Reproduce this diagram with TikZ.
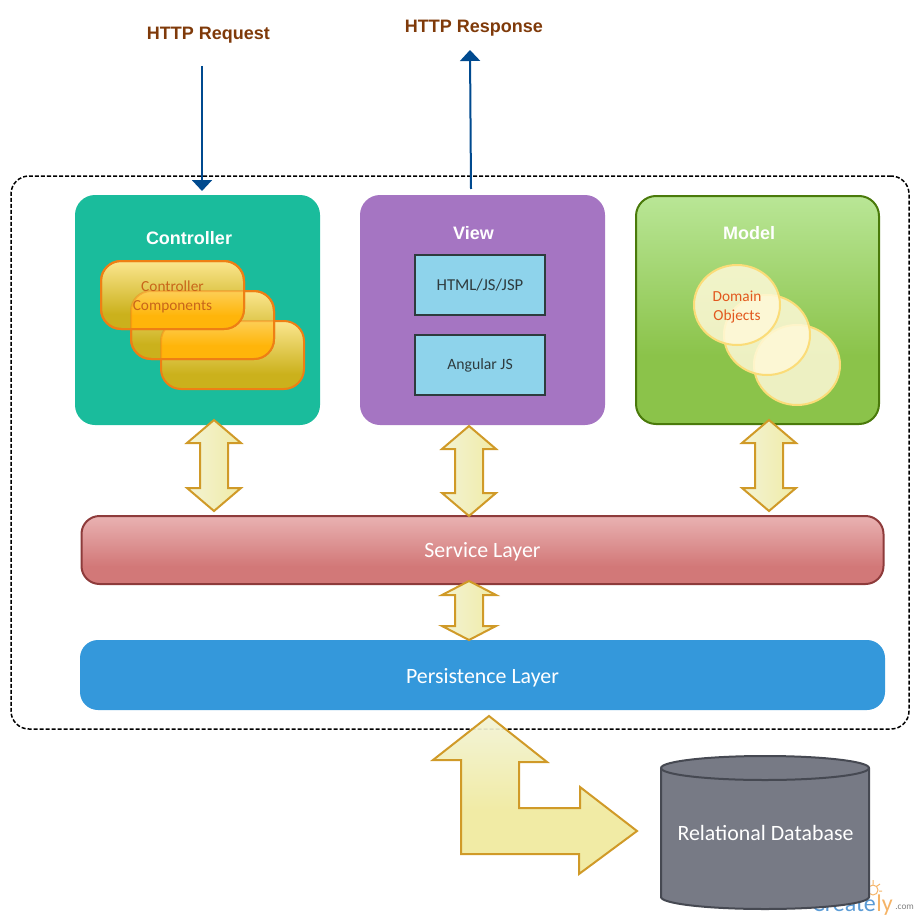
\documentclass[tikz,border=0pt]{standalone}
\usepackage{fontspec}
\setmainfont{Carlito}
\newfontfamily\headfont{Liberation Sans}
\usepackage{tikz}
\usetikzlibrary{calc, arrows.meta, shapes.geometric}

\definecolor{arrowline}{HTML}{D09A28}
\definecolor{arrowleft}{HTML}{F3F3D4}
\definecolor{arrowright}{HTML}{F0EBA6}
\definecolor{flowblue}{HTML}{004A8F}
\definecolor{headbrown}{HTML}{7F3A0A}
\definecolor{compline}{HTML}{EE7F14}
\definecolor{comptext}{HTML}{C8651A}
\definecolor{ctrlfill}{HTML}{1ABC9C}
\definecolor{viewfill}{HTML}{A575C2}
\definecolor{modelline}{HTML}{4A7A0B}
\definecolor{boxline}{HTML}{2E3B3E}
\definecolor{boxfill}{HTML}{8ED3EB}
\definecolor{ringline}{HTML}{FBDC78}
\definecolor{ringfill}{HTML}{FFF9D8}
\definecolor{domaintext}{HTML}{E2581E}
\definecolor{serviceline}{HTML}{8E3B3B}
\definecolor{persfill}{HTML}{3498DB}
\definecolor{dbline}{HTML}{464952}
\definecolor{dbfill}{HTML}{777A85}
\definecolor{markblue}{HTML}{5B9BD5}
\definecolor{markorange}{HTML}{F5B366}
\definecolor{modellow}{HTML}{8BC34A}
\definecolor{modelhigh}{HTML}{B9E696}
\definecolor{servicelow}{HTML}{D27878}
\definecolor{servicehigh}{HTML}{E9B2B2}
\definecolor{complow}{HTML}{CBB11C}
\definecolor{comphigh}{HTML}{FBE68F}
\definecolor{overlaplow}{HTML}{FFB50A}
\definecolor{overlaphigh}{HTML}{FDCE55}
\definecolor{bentlow}{HTML}{F1EBA5}
\definecolor{benthigh}{HTML}{F3F4D8}

% colour stops: the shape itself runs from 25bp (bottom) to 75bp (top)
\pgfdeclareverticalshading{modelshade}{100bp}{color(0bp)=(modellow);
	color(40bp)=(modellow); color(75bp)=(modelhigh); color(100bp)=(modelhigh)}
\pgfdeclareverticalshading{serviceshade}{100bp}{color(0bp)=(servicelow);
	color(38bp)=(servicelow); color(75bp)=(servicehigh); color(100bp)=(servicehigh)}
\pgfdeclareverticalshading{compshade}{100bp}{color(0bp)=(complow);
	color(36bp)=(complow); color(75bp)=(comphigh); color(100bp)=(comphigh)}
\pgfdeclareverticalshading{overlapshade}{100bp}{color(0bp)=(overlaplow);
	color(57bp)=(overlaplow); color(75bp)=(overlaphigh); color(100bp)=(overlaphigh)}
\pgfdeclareverticalshading{bentshade}{100bp}{color(0bp)=(bentlow);
	color(45bp)=(bentlow); color(75bp)=(benthigh); color(100bp)=(benthigh)}

\def\px{0.75pt}

\tikzset{
	panel/.style={draw=black, line width=1.5*\px, dash pattern=on 4*\px off 2*\px,
		rounded corners=13.5pt, minimum width=898*\px, minimum height=553*\px},
	block/.style={rounded corners=15pt, minimum width=245*\px, minimum height=230*\px,
		inner sep=0pt},
	layer/.style={rounded corners=13.5pt, minimum width=802*\px, inner sep=0pt},
	viewbox/.style={draw=boxline, fill=boxfill, line width=2*\px, minimum width=130*\px,
		minimum height=60*\px, inner sep=0pt, text=boxline},
	compbox/.style={draw=compline, shading=compshade, line width=2*\px,
		rounded corners=15pt, minimum width=143*\px, minimum height=68*\px, inner sep=0pt},
	compedge/.style={compline, line width=2*\px, rounded corners=15pt},
	domainring/.style={ellipse, draw=ringline, fill=ringfill, fill opacity=0.85,
		line width=2*\px, minimum width=86*\px, minimum height=80*\px, inner sep=0pt},
	blocktitle/.style={font=\headfont\bfseries\fontsize{13.5pt}{16pt}\selectfont, text=white},
	httptext/.style={font=\headfont\bfseries\fontsize{13.5pt}{16pt}\selectfont, text=headbrown},
	flowline/.style={draw=flowblue, line width=2*\px,
		-{Triangle[width=20*\px, length=11*\px]}},
	bigtext/.style={text=white, text height=14.8pt, text depth=3pt,
		font=\fontsize{16.4pt}{18pt}\selectfont},
	smalltext/.style={align=center, font=\fontsize{11.5pt}{14.25pt}\selectfont},
	arrowbody/.style={draw=arrowline, line width=2*\px, line join=miter}
}

% double block arrow, upright, between two named points
\newcommand{\dblarrow}[3]{
	\filldraw[arrowbody, left color=arrowleft, right color=arrowright]
	(#1) -- ($(#1)+(27,#3)$) -- ($(#1)+(14,#3)$) -- ($(#2)+(14,-#3)$) --
	($(#2)+(27,-#3)$) -- (#2) -- ($(#2)+(-27,-#3)$) -- ($(#2)+(-14,-#3)$) --
	($(#1)+(-14,#3)$) -- ($(#1)+(-27,#3)$) -- cycle;
}
\newcommand{\bentpath}{(489,716) -- (433,760) -- (461,760) -- (461,854) -- (579,854) --
	(579,874) -- (637,831) -- (580,787) -- (580,808) -- (519,808) -- (519,762) --
	(547,762) -- cycle}

\begin{document}
\begin{tikzpicture}[x=0.75pt, y=-0.75pt]

	\useasboundingbox (0,0) rectangle (920,920);

	\node[httptext] (request) at (208.5,35) {HTTP Request};
	\node[httptext] (response) at (474,28) {HTTP Response};

	\node[panel] (frame) at (460,452.5) {};

	\coordinate (reqtop) at (202,66);
	\coordinate (reqend) at (202,191);
	\coordinate (resbot) at (471,189);
	\coordinate (resend) at (470,50);
	\draw[flowline] (reqtop) -- (reqend);
	\draw[flowline] (resbot) -- (resend);

	% the three blocks
	\node[block, fill=ctrlfill] (controller) at (197.5,310) {};
	\node[block, fill=viewfill] (view) at (482.5,310) {};
	\node[block, draw=modelline, line width=2*\px, shading=modelshade,
		minimum width=243*\px, minimum height=228*\px] (model) at (757.5,310) {};
	\node[blocktitle] (controllertitle) at (189,238) {Controller};
	\node[blocktitle] (viewtitle) at (473.5,233) {View};
	\node[blocktitle] (modeltitle) at (749,233) {Model};

	% controller components, back to front
	\node[compbox] (comp3) at (232.5,355) {};
	\node[compbox] (comp2) at (202.5,325) {};
	\begin{scope}
		\clip[rounded corners=15pt] (131,291) rectangle (274,359);
		\path[shading=overlapshade, rounded corners=15pt] (161,321) rectangle (304,389);
		\draw[compedge, opacity=0.4] (161,321) rectangle (304,389);
	\end{scope}
	\draw[compedge] (131,291) rectangle (274,359);
	\node[compbox] (comp1) at (172.5,295) {};
	\begin{scope}
		\clip[rounded corners=15pt] (101,261) rectangle (244,329);
		\path[shading=overlapshade, rounded corners=15pt] (131,291) rectangle (274,359);
		\draw[compedge, opacity=0.4] (131,291) rectangle (274,359);
	\end{scope}
	\draw[compedge] (101,261) rectangle (244,329);
	\node[smalltext, text=comptext] (comptitle) at (172.5,296.5) {Controller\\Components};

	\node[viewbox, font=\fontsize{12.5pt}{13pt}\selectfont] (html) at (480,285) {HTML/JS/JSP};
	\node[viewbox, font=\fontsize{11.8pt}{13pt}\selectfont, text depth=3pt, text height=10pt]
		(angular) at (480,365) {Angular JS};

	\node[domainring] (obj3) at (797,365) {};
	\node[domainring] (obj2) at (767,335) {};
	\node[domainring] (obj1) at (737,305) {};
	\node[smalltext, text=domaintext] (objtitle) at (737,307.5) {Domain\\Objects};

	% the two layers
	\node[layer, draw=serviceline, line width=2*\px, shading=serviceshade,
		minimum height=68*\px, bigtext] (service) at (482.5,550) {Service Layer};
	\node[layer, fill=persfill, minimum width=805*\px, minimum height=70*\px, bigtext,
		text height=16pt] (persistence) at (482.5,675) {Persistence Layer};

	\coordinate (a1) at (214,420);
	\coordinate (a2) at (214,511);
	\coordinate (b1) at (469,426);
	\coordinate (b2) at (469,516);
	\coordinate (c1) at (769,420);
	\coordinate (c2) at (769,511);
	\coordinate (d1) at (469,581);
	\coordinate (d2) at (469,640);
	\dblarrow{a1}{a2}{23}
	\dblarrow{b1}{b2}{23}
	\dblarrow{c1}{c2}{23}
	\dblarrow{d1}{d2}{14}

	% watermark, mostly behind the database
	\node[anchor=base east, inner sep=0pt, text=markorange,
		font=\fontsize{18pt}{18pt}\selectfont] (markly) at (893,911) {ly};
	\node[anchor=base east, inner sep=0pt, text=markblue,
		font=\fontsize{18pt}{18pt}\selectfont] (markname) at (markly.base west) {Create};
	\node[anchor=base west, inner sep=0pt, text=gray,
		font=\fontsize{7pt}{7pt}\selectfont] (markcom) at (895,909) {.com};
	\draw[markorange, line width=1*\px] (873,890) circle (5)
	(873,880) -- (873,884) (880,884) -- (877,886) (882,891) -- (879,891);

	% database
	\filldraw[draw=dbline, fill=dbfill, line width=2*\px]
	(661,768) -- (661,897) arc[start angle=180, end angle=360, x radius=104, y radius=-12]
	-- (869,768) arc[start angle=0, end angle=180, x radius=104, y radius=-12] -- cycle;
	\draw[draw=dbline, line width=2*\px] (661,768) arc[start angle=180, end angle=360,
		x radius=104, y radius=-12];
	\node[bigtext] (database) at (765.5,833) {Relational Database};

	% bent arrow between persistence layer and database
	\path[shading=bentshade] \bentpath;
	\begin{scope}
		\clip \bentpath;
		\node[panel, opacity=0.08] (frameghost) at (460,452.5) {};
	\end{scope}
	\draw[arrowbody] \bentpath;

\end{tikzpicture}
\end{document}
